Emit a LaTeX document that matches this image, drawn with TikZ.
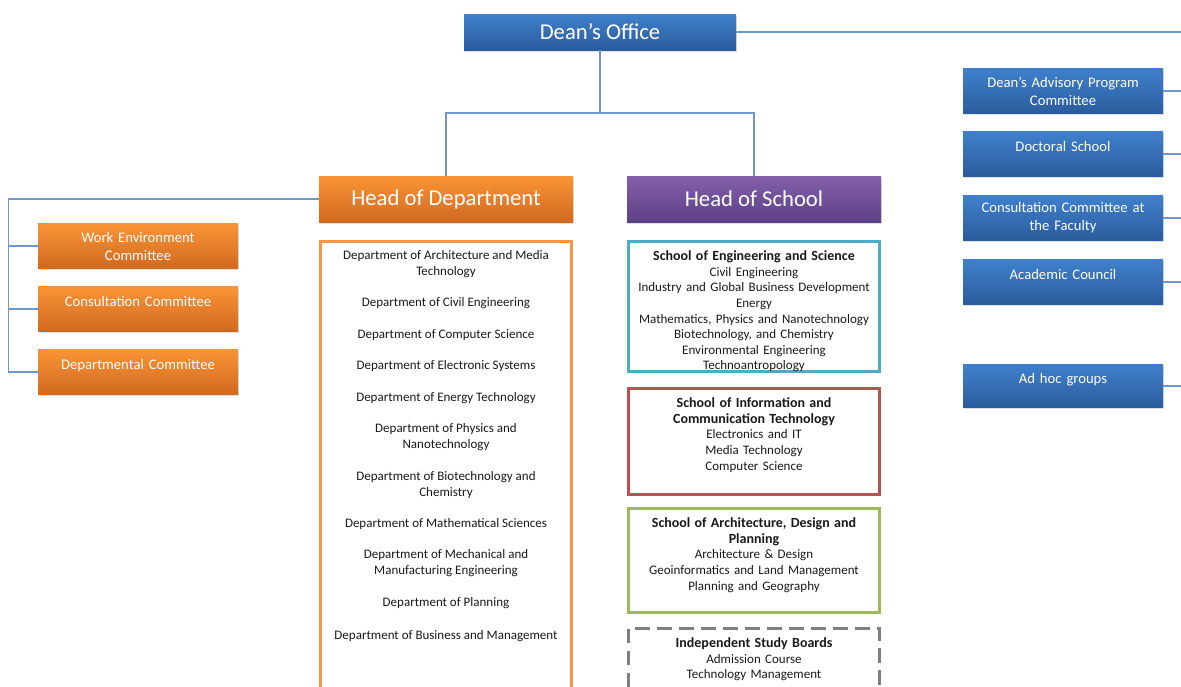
\documentclass[tikz,border=0pt]{standalone}
\usepackage{fontspec}
\setmainfont{Carlito}
\usetikzlibrary{positioning}
\usetikzlibrary{shadows}

\definecolor{linkblue}{HTML}{6F97CB}
\definecolor{blutop}{HTML}{3F80CC}
\definecolor{blubot}{HTML}{2B5C9C}
\definecolor{orgtop}{HTML}{FA9436}
\definecolor{orgbot}{HTML}{D0691F}
\definecolor{purtop}{HTML}{8260AA}
\definecolor{purbot}{HTML}{5E4086}
\definecolor{deporange}{HTML}{F79646}
\definecolor{engcol}{HTML}{4BACC6}
\definecolor{ictcol}{HTML}{C0504D}
\definecolor{archcol}{HTML}{9BBB59}
\definecolor{indcol}{HTML}{7F7F7F}
\newcommand{\schfont}{\fontsize{10.5}{13.2}\selectfont\bfseries}

\begin{document}
\begin{tikzpicture}[x=0.75pt,y=-0.75pt]
\tikzset{conn/.style={draw=linkblue, line width=0.8pt}}
\tikzset{shade/.style={drop shadow={shadow xshift=1pt,shadow yshift=-1.2pt,opacity=0.25}}}
\tikzset{bigbox/.style={rectangle, shade, text=white, minimum width=190.5pt, minimum height=34.5pt, font=\fontsize{17}{20}\selectfont}}
\tikzset{smallbox/.style={rectangle, shade, text=white, align=center, text width=146pt, minimum width=150pt, minimum height=34pt, inner sep=0pt, font=\fontsize{11}{13.5}\selectfont}}
\tikzset{bluebox/.style={smallbox, top color=blutop, bottom color=blubot}}
\tikzset{orgbox/.style={smallbox, top color=orgtop, bottom color=orgbot}}
\tikzset{upper/.style={text depth=12pt}}
\tikzset{listbox/.style={rectangle, draw, line width=2.4pt, minimum width=188.25pt}}
\tikzset{deptxt/.style={align=center, inner sep=0pt, text=black!90, font=\fontsize{9.75}{12}\selectfont}}
\tikzset{schtxt/.style={align=center, inner sep=0pt, text width=182pt, text=black!90, font=\fontsize{9.75}{11.7}\selectfont}}

\useasboundingbox (0,0) rectangle (1181,686);
\clip (0,0) rectangle (1181,686);

% top level
\node[bigbox, top color=blutop, bottom color=blubot, minimum width=204pt, minimum height=27pt] (dean) at (600,32) {Dean’s Office};
\node[bigbox, top color=orgtop, bottom color=orgbot] (hod) at (446,199) {Head of Department};
\node[bigbox, top color=purtop, bottom color=purbot] (hos) at (754,199) {Head of School};
\coordinate (split) at (600,113);
\coordinate (deanend) at (1181,32);
\draw[conn] (dean.east) -- (deanend);
\draw[conn] (dean.south) -- (split);
\draw[conn] (hod.north) |- (split) -| (hos.north);

% committees under the head of department
\node[orgbox] (wec) at (138,246) {Work Environment\\Committee};
\node[orgbox, upper] (ccom) at (138,309) {Consultation Committee};
\node[orgbox, upper] (dcom) at (138,372) {Departmental Committee};
\path (hod.west) -- ++(-310,0) coordinate (lcorner);
\draw[conn] (hod.west) -- (lcorner) |- (dcom.west);
\foreach \c in {wec,ccom}
  \draw[conn] (lcorner |- \c.west) -- (\c.west);

% bodies on the right
\node[bluebox] (dapc) at (1063,91) {Dean’s Advisory Program\\Committee};
\node[bluebox, upper] (docs) at (1063,154) {Doctoral School};
\node[bluebox] (ccf) at (1063,218) {Consultation Committee at\\the Faculty};
\node[bluebox, upper] (acad) at (1063,282) {Academic Council};
\node[bluebox, upper, minimum height=32.25pt] (adhoc) at (1063,386) {Ad hoc groups};
\foreach \b in {dapc,docs,ccf,acad,adhoc}
  \draw[conn] (\b.east) -- (\b.east -| deanend);

% departments
\node[listbox, draw=deporange, minimum height=358.9pt] (deps) at (446,480.75) {};
\foreach \n/\y/\t in {1/264.5/{Department of Architecture and Media\\Technology},
    2/303/{Department of Civil Engineering},
    3/335/{Department of Computer Science},
    4/366/{Department of Electronic Systems},
    5/398/{Department of Energy Technology},
    6/437/{Department of Physics and\\Nanotechnology},
    7/485/{Department of Biotechnology and\\Chemistry},
    8/524/{Department of Mathematical Sciences},
    9/563/{Department of Mechanical and\\Manufacturing Engineering},
    10/603/{Department of Planning},
    11/636/{Department of Business and Management}}
  \node[deptxt] (dep\n) at (446,\y) {\t};

% schools
\node[listbox, draw=engcol, minimum height=97.5pt] (eng) at (754,306.5) {};
\node[schtxt, below=8pt of eng.north] (engtxt) {{\schfont School of Engineering and Science}\\Civil Engineering\\Industry and Global Business Development\\Energy\\Mathematics, Physics and Nanotechnology\\Biotechnology, and Chemistry\\Environmental Engineering\\Technoantropology};
\node[listbox, draw=ictcol, minimum height=79.5pt] (ict) at (754,441.5) {};
\node[schtxt, below=8pt of ict.north] (icttxt) {{\schfont School of Information and\\Communication Technology}\\Electronics and IT\\Media Technology\\Computer Science};
\node[listbox, draw=archcol, minimum height=78pt] (arch) at (754,560.5) {};
\node[schtxt, below=8pt of arch.north] (archtxt) {{\schfont School of Architecture, Design and\\Planning}\\Architecture \& Design\\Geoinformatics and Land Management\\Planning and Geography};
\node[listbox, draw=indcol, dash pattern=on 11pt off 5.5pt, minimum height=68.6pt] (ind) at (754,674) {};
\node[schtxt, below=8pt of ind.north] (indtxt) {{\schfont Independent Study Boards}\\Admission Course\\Technology Management};
\end{tikzpicture}
\end{document}
